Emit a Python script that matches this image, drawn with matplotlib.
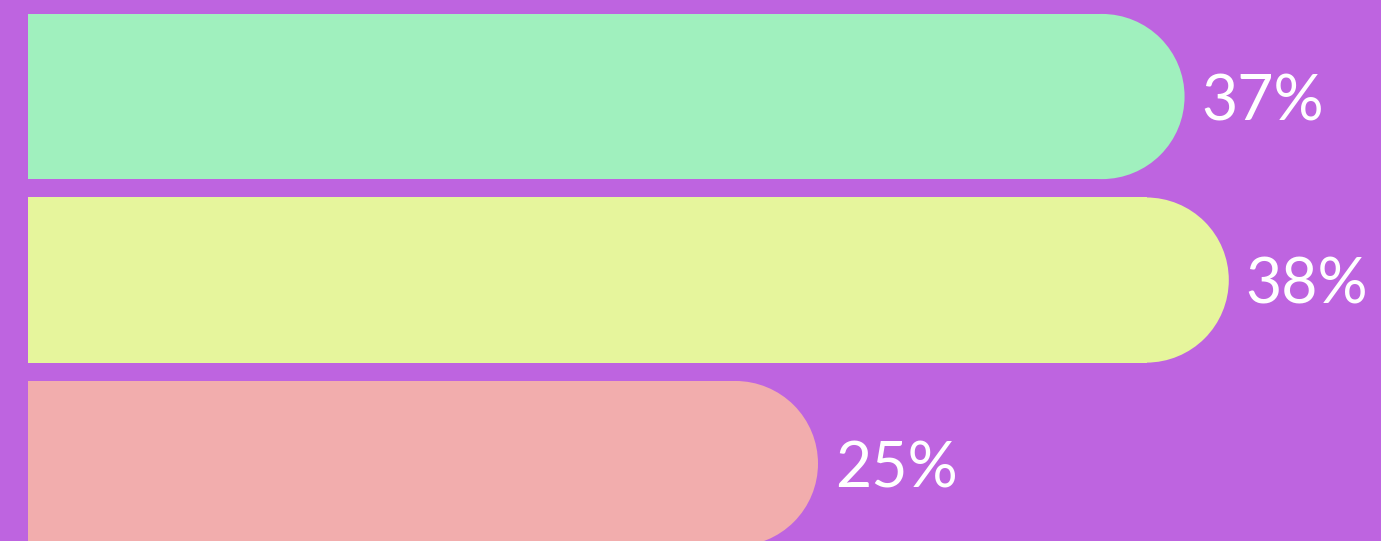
import matplotlib
matplotlib.use("Agg")
import matplotlib.pyplot as plt
from matplotlib.patches import Ellipse

# Data
categories = ["A", "B", "C"]
values = [36.6, 38.0, 25.0]
labels = ["37%", "38%", "25%"]
bar_colors = ["#A0F0BE", "#E6F59C", "#F2ADAD"]
bg_color = "#BE64E0"

W, H, DPI = 13.81, 5.41, 100
fig = plt.figure(figsize=(W, H), dpi=DPI, facecolor=bg_color)
ax = fig.add_axes([0, 0, 1, 1])
ax.set_facecolor(bg_color)
ax.set_axis_off()

# Axis limits chosen so bars start near the left edge
px_per_unit = 31.6
ax.set_xlim(-28 / px_per_unit, (W * DPI - 28) / px_per_unit)
ax.set_ylim(2.422, -0.526)

bar_h = 0.9
ypos = list(range(len(values)))

# Radius of the rounded end in data units (half bar height, circular on screen)
y_px_per_unit = H * DPI / (2.422 + 0.526)
r_px = bar_h / 2 * y_px_per_unit
rx = r_px / px_per_unit
ry = bar_h / 2

for y, v, c, lab in zip(ypos, values, bar_colors, labels):
    ax.barh(y, v - rx + 0.02, height=bar_h, left=0, color=c, linewidth=0)
    ax.add_patch(Ellipse((v - rx, y), 2 * rx, 2 * ry, color=c, linewidth=0))
    ax.text(v + 17 / px_per_unit, y, lab, color="white", fontsize=45,
            family="Lato", ha="left", va="center_baseline")

fig.savefig("out.png", dpi=DPI, facecolor=bg_color)
